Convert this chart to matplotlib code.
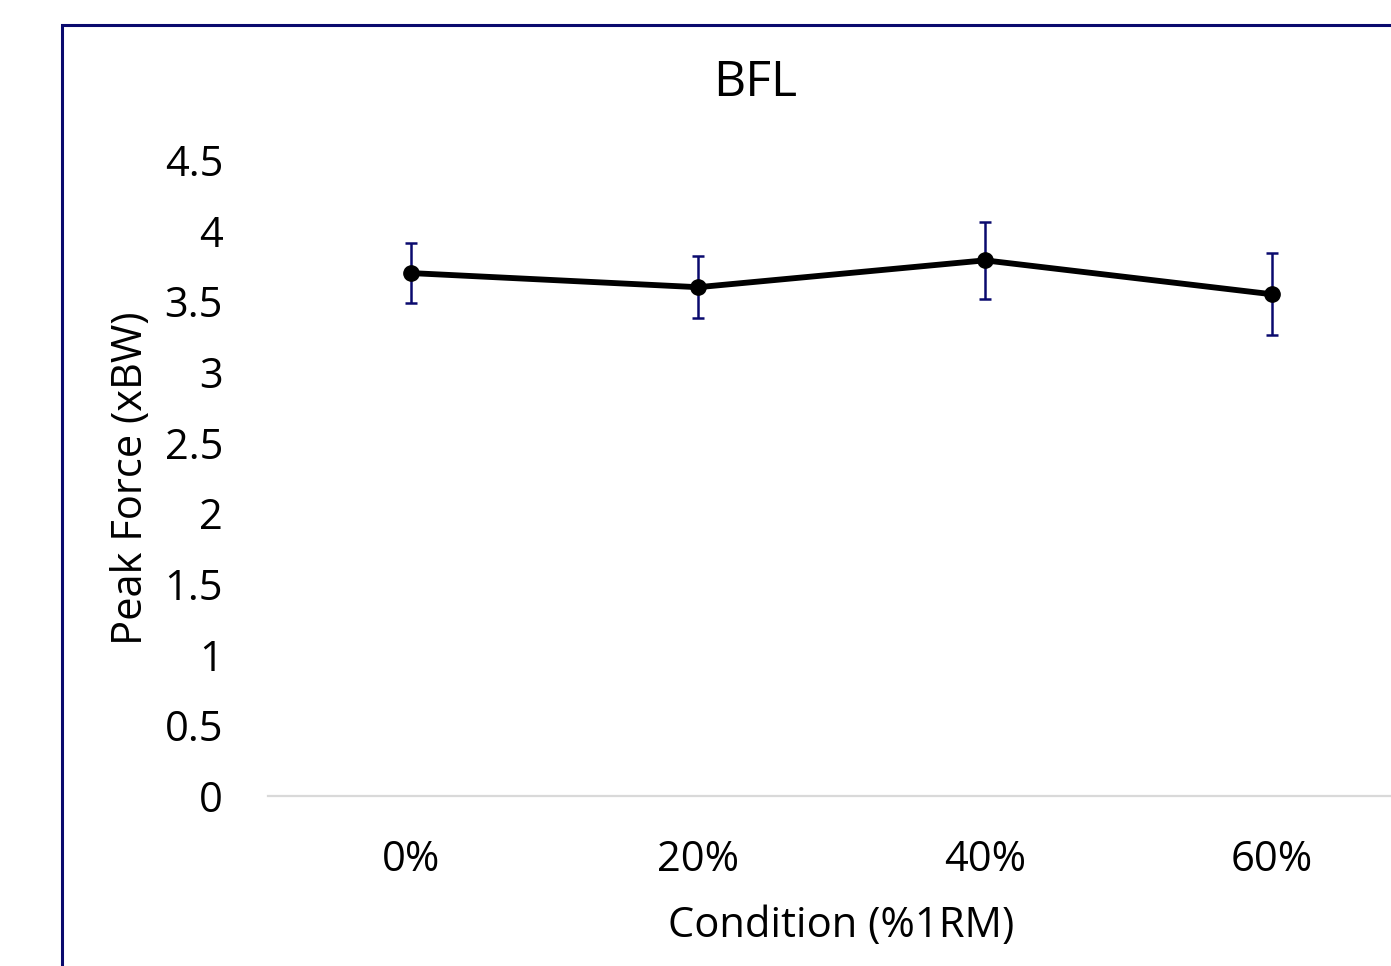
import matplotlib.pyplot as plt
import matplotlib.patches as patches

# donnees
conditions = ["0%", "20%", "40%", "60%"]
peak_force = [3.70, 3.60, 3.79, 3.55]
erreur = [0.21, 0.22, 0.27, 0.29]
yticks = [0, 0.5, 1, 1.5, 2, 2.5, 3, 3.5, 4, 4.5]
ytick_labels = ["0", "0.5", "1", "1.5", "2", "2.5", "3", "3.5", "4", "4.5"]

plt.rcParams['font.family'] = ['Open Sans', 'DejaVu Sans']
navy = "#0A0A6E"

fig = plt.figure(figsize=(13.91, 9.66), dpi=100)
W, H = 1391, 966

# cadre du graphique (depasse a droite et en bas)
cadre = patches.Rectangle((62 / W, -0.2), 1.0, 0.2 + (1 - 25 / H), transform=fig.transFigure,
                          fill=False, edgecolor=navy, linewidth=2.2, zorder=0)
fig.patches.append(cadre)

ax = fig.add_axes([267.5 / W, 1 - 796 / H, 1148 / W, (796 - 160) / H])
x = range(len(conditions))
ax.errorbar(x, peak_force, yerr=erreur, fmt="none", ecolor=navy, elinewidth=1.8,
            capsize=4.5, capthick=1.8, zorder=2)
ax.plot(x, peak_force, color="black", linewidth=4.2, marker="o", markersize=11, zorder=3)

ax.set_xlim(-0.5, 3.5)
ax.set_ylim(0, 4.5)
ax.set_xticks(list(x))
ax.set_xticklabels(conditions, fontsize=30)
ax.set_yticks(yticks)
ax.set_yticklabels(ytick_labels, fontsize=30)
ax.tick_params(axis="both", length=0)
ax.tick_params(axis="y", pad=32)
ax.tick_params(axis="x", pad=31)
for s in ["top", "right", "left"]:
    ax.spines[s].set_visible(False)
ax.spines["bottom"].set_color("#D9D9D9")
ax.spines["bottom"].set_linewidth(1.6)
ax.patch.set_alpha(0)

ax.set_xlabel("Condition (%1RM)", fontsize=30, labelpad=17)
ax.set_ylabel("Peak Force (xBW)", fontsize=30, labelpad=9)
fig.text(755 / W, 1 - 83 / H, "BFL", fontsize=36, ha="center", va="center")

plt.savefig("out.png", dpi=100)
